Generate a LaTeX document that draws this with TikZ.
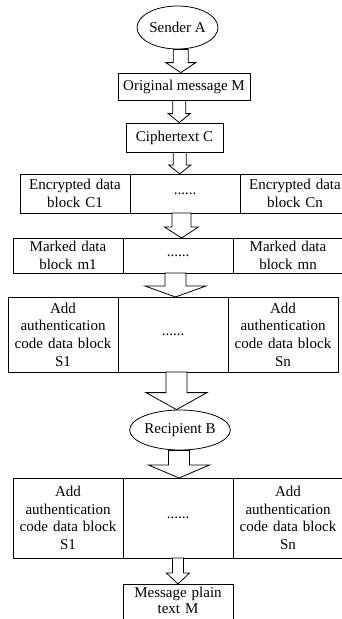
\documentclass[tikz,border=0pt]{standalone}
\usepackage{fontspec}
\setmainfont{Liberation Serif}
\usetikzlibrary{positioning,calc,shapes.geometric}

\tikzset{
  flowbox/.style={draw,rectangle,inner sep=0pt,align=center,line width=0.8pt},
  cell/.style={draw,rectangle,outer sep=0pt,inner sep=0pt,text width=110pt,align=center,line width=0.8pt},
  endpoint/.style={draw,ellipse,inner sep=0pt,line width=0.8pt},
  blockarrow/.style={draw,fill=white,line width=0.8pt,line join=miter}
}
% hollow block arrow: from, to, half shaft, half head, head length
\newcommand{\flowarrow}[5]{%
  \draw[blockarrow] let \p1=(#1.south), \p2=(#2.north), \p3=($(#1.south)!0.5!(#2.north)$) in
    ({\x3-#3},\y1) -- ({\x3+#3},\y1) -- ({\x3+#3},{\y2+#5}) -- ({\x3+#4},{\y2+#5})
    -- (\x3,\y2) -- ({\x3-#4},{\y2+#5}) -- ({\x3-#3},{\y2+#5}) -- cycle;}

\begin{document}
\begin{tikzpicture}[x=1pt,y=-1pt,font=\fontsize{15}{17.7}\selectfont]
\useasboundingbox (0,0) rectangle (342,619);

\node[endpoint,minimum width=81pt,minimum height=43pt] (sender) at (177.5,27.5) {Sender A};
\node[flowbox,minimum width=132pt,minimum height=27pt] (orig) at (184,86.5) {Original message M};
\node[flowbox,minimum width=97pt,minimum height=29pt] (cipher) at (174.5,137.5) {Ciphertext C};

% encrypted blocks
\node[cell,minimum height=39pt] (encmid) at (185,193.5) {......};
\node[cell,minimum height=39pt,left=0pt of encmid] (encleft) {Encrypted data\\block C1};
\node[cell,minimum height=39pt,right=0pt of encmid] (encright) {Encrypted data\\block Cn};

% marked blocks
\node[cell,minimum height=35pt] (markmid) at (178,255.5) {......};
\node[cell,minimum height=35pt,left=0pt of markmid] (markleft) {Marked data\\block m1};
\node[cell,minimum height=35pt,right=0pt of markmid] (markright) {Marked data\\block mn};

% signed blocks (sender side)
\node[cell,minimum height=75pt] (signmid) at (173,334.5) {......};
\node[cell,minimum height=75pt,left=0pt of signmid] (signleft) {Add\\authentication\\code data block\\S1};
\node[cell,minimum height=75pt,right=0pt of signmid] (signright) {Add\\authentication\\code data block\\Sn};

\node[endpoint,minimum width=96pt,minimum height=40pt] (recipient) at (180,430) {Recipient B};

% signed blocks (recipient side)
\node[cell,minimum height=80pt] (recvmid) at (178,518) {......};
\node[cell,minimum height=80pt,left=0pt of recvmid] (recvleft) {Add\\authentication\\code data block\\S1};
\node[cell,minimum height=80pt,right=0pt of recvmid] (recvright) {Add\\authentication\\code data block\\Sn};

\node[cell,minimum height=44pt,text depth=28pt,anchor=north,font=\fontsize{15}{16}\selectfont] (plain) at (178,584) {Message plain\\text M};

% arrows
\flowarrow{sender}{orig}{7.5pt}{15pt}{10pt}
\flowarrow{orig}{cipher}{6.5pt}{11pt}{9pt}
\flowarrow{cipher}{encmid}{6.5pt}{11pt}{9pt}
\flowarrow{encmid}{markmid}{9.5pt}{17pt}{11pt}
\flowarrow{markmid}{signmid}{10.5pt}{30.5pt}{11pt}
\flowarrow{signmid}{recipient}{10.5pt}{30.5pt}{17pt}
\flowarrow{recipient}{recvmid}{10.5pt}{30.5pt}{13pt}
\flowarrow{recvmid}{plain}{5.5pt}{11.5pt}{11pt}
\end{tikzpicture}
\end{document}
